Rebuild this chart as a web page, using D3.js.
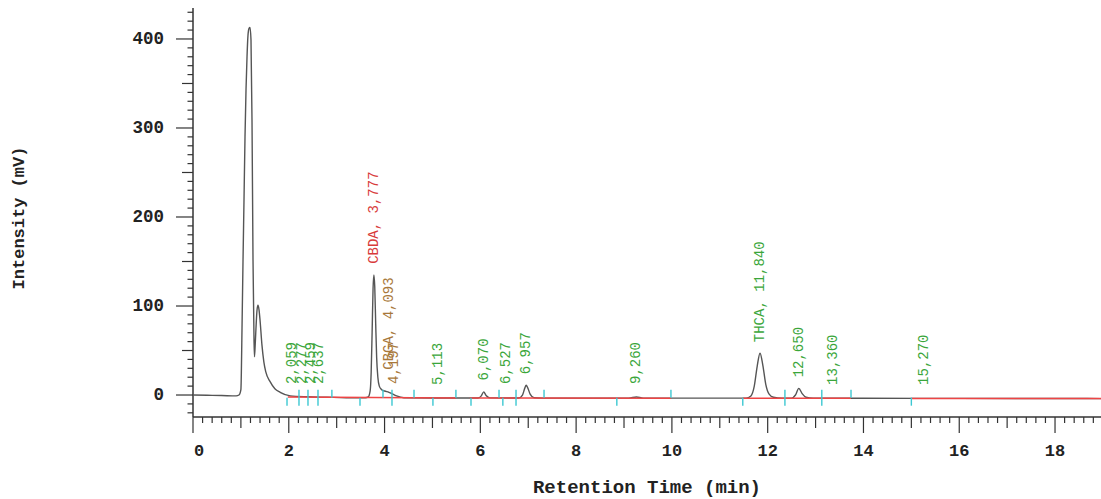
<!DOCTYPE html>
<html>
<head>
<meta charset="utf-8">
<script src="https://cdn.jsdelivr.net/npm/d3@7"></script>
<style>
  body { margin: 0; background: #fff; }
  text { font-family: "Liberation Mono", "DejaVu Sans Mono", monospace; }
</style>
</head>
<body>
<script>
let width = 1101
let height = 499

// chromatogram trace (min, mV)
let traceTime = [0, 0.3, 0.6, 0.9, 0.96, 1.0, 1.023, 1.044, 1.065, 1.086, 1.107, 1.128, 1.148, 1.17, 1.19, 1.211, 1.232, 1.253, 1.274, 1.284, 1.3, 1.315, 1.336, 1.357, 1.378, 1.4, 1.44, 1.48, 1.52, 1.61, 1.71, 1.82, 2.03, 2.4, 2.8, 3.2, 3.6,
  3.66, 3.7, 3.72, 3.74, 3.76, 3.777, 3.795, 3.815, 3.835, 3.86, 3.89, 3.94, 4.0, 4.09, 4.15, 4.25, 4.4, 5.0, 5.95,
  6.02, 6.07, 6.12, 6.2, 6.8, 6.88, 6.93, 6.957, 6.99, 7.04, 7.12, 7.3, 9.1, 9.26, 9.4,
  11.55, 11.65, 11.72, 11.78, 11.84, 11.9, 11.96, 12.03, 12.12, 12.3, 12.5, 12.58, 12.65, 12.72, 12.8, 12.95, 14, 16, 18.96]
let traceValue = [0, -0.3, -0.6, -1, 0, 6, 73, 150, 219, 290, 343, 380, 404, 412, 413, 399, 309, 152, 62, 43, 58, 75, 95, 101, 96, 84, 56, 37, 26, 15, 7, 3, -1, -2, -2.5, -3, -3,
  -2, 5, 25, 70, 120, 135, 122, 80, 42, 20, 10, 6, 4.5, 3, 1.5, -1, -3, -3.3, -3.4,
  -1, 3.5, -0.5, -3.2, -3.4, 0, 8, 11, 8, 1, -3, -3.5, -3.5, -2.2, -3.5,
  -3.5, -1, 10, 32, 47, 33, 12, 1, -2.5, -3.5, -3.5, 0, 7.5, 1.5, -2.5, -3.6, -3.7, -3.8, -4]

// integration baselines (red)
let baseStart = [1.98, 5.78, 11.48, 15.0]
let baseEnd = [5.49, 9.98, 13.74, 18.96]
let baseStartValue = [-2.2, -3.4, -3.5, -3.8]
let baseEndValue = [-3.4, -3.5, -3.7, -4]

// peak start/end markers (1 above, -1 below, 0 both)
let markTime = [1.963, 2.213, 2.401, 2.61, 2.9, 3.487, 3.967, 4.155, 4.615, 5.01, 5.49, 5.805, 6.39, 6.47, 6.745, 7.33, 8.85, 9.98, 11.48, 12.36, 13.13, 13.74, 15.0]
let markSide = [-1, 0, 0, 0, 1, -1, 1, 0, 1, -1, 1, -1, 1, -1, 0, 1, -1, 1, -1, 0, 0, 1, -1]

// peak labels
let labelText = ['2,059', '2,277', '2,459', '2,637', 'CBDA, 3,777', 'CBGA, 4,093', '4,197', '5,113', '6,070', '6,527', '6,957', '9,260', 'THCA, 11,840', '12,650', '13,360', '15,270']
let labelTime = [2.059, 2.277, 2.459, 2.637, 3.777, 4.093, 4.197, 5.113, 6.07, 6.527, 6.957, 9.26, 11.84, 12.65, 13.36, 15.27]
let labelLevel = [0, 0, 0, 0, 135, 16, 0, -1, 4, 0, 11, 0, 47, 7.5, -1, -1]
let labelKind = ['peak', 'peak', 'peak', 'peak', 'CBDA', 'CBGA', 'CBGA', 'peak', 'peak', 'peak', 'peak', 'peak', 'THCA', 'peak', 'peak', 'peak']

let xTicks = [0, 2, 4, 6, 8, 10, 12, 14, 16, 18]
let yTicks = [0, 100, 200, 300, 400]

let kindColor = { peak: '#3aa63a', CBDA: '#d83a3a', CBGA: '#a8783a', THCA: '#3aa63a' }

let x = d3.scaleLinear().domain([0, 18.96]).range([193, 1101])
let y = d3.scaleLinear().domain([-24.7, 434.8]).range([417, 8])

let svg = d3.select('body').append('svg')
  .attr('width', width)
  .attr('height', height)

// axes ----------------------------------------------------------
let axisColor = '#333'

svg.append('line')
  .attr('x1', 193).attr('x2', 193)
  .attr('y1', 8).attr('y2', 417)
  .style('stroke', axisColor).style('stroke-width', 1.5)

svg.append('line')
  .attr('x1', 193).attr('x2', 1101)
  .attr('y1', 417).attr('y2', 417)
  .style('stroke', axisColor).style('stroke-width', 1.5)

// x ticks every 0.2 min
let xMinor = d3.range(0, 95).map(i => i / 5)
svg.append('g').selectAll('line')
  .data(xMinor)
  .join('line')
  .attr('x1', d => x(d)).attr('x2', d => x(d))
  .attr('y1', 417)
  .attr('y2', (d, i) => i % 10 === 0 ? 433 : (i % 5 === 0 ? 428 : 423))
  .style('stroke', axisColor).style('stroke-width', 1.2)

svg.append('g').selectAll('text')
  .data(xTicks)
  .join('text')
  .attr('x', d => x(d) + (d === 0 ? 6 : 0))
  .attr('y', 451)
  .attr('text-anchor', 'middle')
  .attr('dominant-baseline', 'central')
  .style('font-size', '17px')
  .style('font-weight', 'bold')
  .style('fill', '#222')
  .text(d => d)

// y ticks every 10 mV
let yMinor = d3.range(-2, 44).map(i => i * 10)
svg.append('g').selectAll('line')
  .data(yMinor)
  .join('line')
  .attr('y1', d => y(d)).attr('y2', d => y(d))
  .attr('x1', d => d % 100 === 0 ? 176 : (d % 50 === 0 ? 182 : 187.5))
  .attr('x2', 193)
  .style('stroke', axisColor).style('stroke-width', 1.2)

svg.append('g').selectAll('text')
  .data(yTicks)
  .join('text')
  .attr('x', 164)
  .attr('y', d => y(d))
  .attr('text-anchor', 'end')
  .attr('dominant-baseline', 'central')
  .style('font-size', '17.5px')
  .style('font-weight', 'bold')
  .style('fill', '#222')
  .text(d => d)

svg.append('text')
  .attr('x', 647).attr('y', 488)
  .attr('text-anchor', 'middle')
  .attr('dominant-baseline', 'central')
  .style('font-size', '19px')
  .style('font-weight', 'bold')
  .style('fill', '#222')
  .text('Retention Time (min)')

svg.append('text')
  .attr('transform', 'translate(19,218) rotate(-90)')
  .attr('text-anchor', 'middle')
  .attr('dominant-baseline', 'central')
  .style('font-size', '17px')
  .style('font-weight', 'bold')
  .style('fill', '#222')
  .text('Intensity (mV)')

// trace ---------------------------------------------------------
let trace = traceTime.map((t, i) => [t, traceValue[i]])

svg.append('path')
  .datum(trace)
  .attr('d', d3.line().x(d => x(d[0])).y(d => y(d[1])).curve(d3.curveMonotoneX))
  .style('fill', 'none')
  .style('stroke', '#555')
  .style('stroke-width', 1.4)

// baselines
svg.append('g').selectAll('line')
  .data(baseStart)
  .join('line')
  .attr('x1', d => x(d))
  .attr('x2', (d, i) => x(baseEnd[i]))
  .attr('y1', (d, i) => y(baseStartValue[i]))
  .attr('y2', (d, i) => y(baseEndValue[i]))
  .style('stroke', '#ee4444')
  .style('stroke-width', 1.5)

// peak markers
svg.append('g').selectAll('line')
  .data(markTime)
  .join('line')
  .attr('x1', d => x(d)).attr('x2', d => x(d))
  .attr('y1', (d, i) => y(-3) - (markSide[i] === -1 ? 0 : 8))
  .attr('y2', (d, i) => y(-3) + (markSide[i] === 1 ? 0 : 8))
  .style('stroke', '#3cc8d2')
  .style('stroke-width', 1.4)

// peak labels
svg.append('g').selectAll('text')
  .data(labelText)
  .join('text')
  .attr('transform', (d, i) => 'translate(' + x(labelTime[i]) + ',' + (y(labelLevel[i]) - 11) + ') rotate(-90)')
  .attr('text-anchor', 'start')
  .attr('dominant-baseline', 'central')
  .style('font-size', '14px')
  .style('fill', (d, i) => kindColor[labelKind[i]])
  .text(d => d)
</script>
</body>
</html>
